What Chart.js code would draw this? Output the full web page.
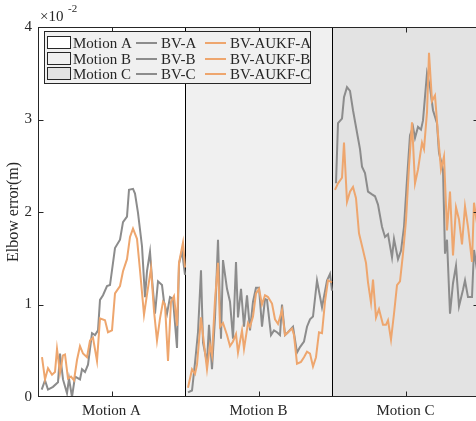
<!DOCTYPE html>
<html>
<head>
<meta charset="utf-8">
<script src="https://cdn.jsdelivr.net/npm/chart.js@4"></script>
<style>
  html, body { margin: 0; padding: 0; background: #fff; overflow: hidden; }
  #wrap { width: 482px; height: 421px; }
</style>
</head>
<body>
<div id="wrap"><canvas id="chart" width="482" height="421"></canvas></div>
<script>
// x = sample index over the three motions (each motion spans 147 samples), y in 1e-2 m
const motions = ["Motion A", "Motion B", "Motion C"];
const sectionLen = 147;
const sectionFill = ["#ffffff", "#f0f0f0", "#e3e3e3"];
const yTicks = [0, 1, 2, 3, 4];

const bvA = [[3.7,0.08],[7,0.18],[10,0.08],[15,0.11],[20,0.16],[22,0.47],[25,0.19],[29,0.04],[31,0.2],[34,0.0],
    [37,0.22],[42,0.19],[44,0.3],[47,0.27],[50,0.35],[54,0.69],[57,0.67],[60,0.72],[62,1.05],[65,1.1],
    [69,1.2],[72,1.21],[77,1.61],[82,1.7],[85,1.89],[89,1.95],[91,2.24],[95,2.25],[97,2.2],[100,1.99],
    [104,1.63],[107,1.08],[109,1.36],[112,1.57],[114,1.28],[117,0.9],[120,1.25],[124,1.21],[126,1.03],[129,0.9],
    [132,1.08],[135,1.06],[139,0.53],[141,1.44],[144,1.58],[147,1.32]];
const bvB = [[150,0.05],[154,0.07],[157,0.37],[160,0.7],[163,1.37],[165,0.59],[169,0.37],[171,0.78],[174,0.3],[177,0.86],
    [180,1.7],[183,0.63],[185,1.48],[189,1.17],[192,1.03],[195,0.63],[198,1.46],[200,0.86],[203,1.17],[206,0.76],
    [209,1.1],[212,0.72],[215,1.03],[218,1.18],[221,1.18],[224,0.76],[227,1.06],[229,1.05],[233,0.67],[236,0.72],
    [239,0.7],[242,0.67],[244,1.0],[247,0.67],[250,0.7],[255,0.76],[259,0.48],[262,0.54],[266,0.6],[269,0.76],
    [272,0.84],[275,0.87],[279,1.26],[284,0.97],[289,1.26],[292,1.33],[294,1.15]];
const bvC = [[298,2.31],[300,2.96],[304,3.01],[306,3.24],[309,3.35],[312,3.31],[315,3.1],[319,2.86],[322,2.68],[324,2.49],
    [327,2.42],[330,2.22],[334,2.19],[337,2.17],[340,2.08],[344,1.84],[347,1.73],[350,1.76],[354,1.51],[356,1.71],
    [360,1.49],[363,1.58],[366,1.84],[369,2.35],[372,2.83],[375,2.92],[377,2.8],[380,2.92],[383,2.89],[385,2.99],
    [389,3.5],[392,3.35],[395,3.1],[399,2.96],[401,2.64],[405,2.46],[407,1.55],[409,1.7],[412,0.9],[415,1.23],
    [418,1.42],[421,0.98],[425,1.16],[427,1.26],[430,1.08],[434,1.08],[436,1.59],[440,1.3]];

const aukfA = [[4,0.43],[7,0.19],[10,0.31],[14,0.24],[17,0.27],[19,0.52],[22,0.26],[25,0.45],[27,0.46],[30,0.2],
    [33,0.22],[36,0.18],[39,0.4],[42,0.55],[45,0.47],[49,0.43],[52,0.61],[55,0.64],[59,0.39],[62,0.85],
    [67,0.83],[70,0.7],[74,0.72],[77,1.12],[82,1.2],[85,1.36],[89,1.49],[92,1.73],[95,1.82],[99,1.71],
    [102,1.37],[106,0.89],[109,1.11],[113,1.39],[116,0.93],[119,0.61],[122,0.85],[125,1.03],[127,1.0],[130,0.39],
    [133,1.03],[136,1.09],[139,0.77],[141,1.45],[145,1.67],[147,1.4]];
const aukfB = [[150,0.1],[154,0.3],[157,0.25],[159,0.35],[163,0.86],[165,0.67],[169,0.3],[172,0.56],[174,0.45],[177,1.05],
    [180,1.45],[182,0.76],[185,0.8],[189,0.67],[192,0.55],[195,0.6],[198,0.68],[200,0.48],[204,0.72],[206,0.52],
    [210,0.8],[212,0.76],[215,0.87],[218,1.12],[221,1.17],[224,1.0],[227,1.1],[230,1.08],[234,1.01],[237,0.84],
    [240,0.79],[244,0.94],[247,0.67],[250,0.7],[254,0.74],[256,0.67],[259,0.36],[263,0.38],[266,0.43],[269,0.49],
    [272,0.47],[275,0.33],[278,0.43],[281,0.7],[284,0.69],[287,1.03],[290,1.26],[294,1.24]];
const aukfC = [[297,2.24],[300,2.31],[304,2.37],[306,2.75],[309,2.11],[312,2.22],[315,2.27],[318,2.15],[321,1.77],[325,1.59],
    [328,1.45],[330,1.24],[333,1.02],[335,1.27],[338,0.86],[341,0.95],[345,0.78],[348,0.78],[350,0.83],[353,0.62],
    [356,0.9],[359,1.21],[362,1.25],[365,1.55],[368,1.91],[371,2.49],[374,2.97],[377,2.31],[380,2.46],[384,2.75],
    [386,2.68],[389,3.08],[391,3.72],[394,3.2],[397,3.26],[400,2.84],[403,2.46],[406,2.6],[409,1.8],[412,2.22],
    [415,1.53],[418,2.05],[421,1.92],[424,1.65],[427,2.06],[430,1.84],[434,1.46],[436,2.1],[440,1.8]];

const GRAY = "rgb(140,140,140)";
const ORANGE = "rgb(238,166,110)";
const TEXT = "#262626";
const FONT = "'Liberation Serif', 'DejaVu Serif', serif";

const toPts = arr => arr.map(p => ({ x: p[0], y: p[1] }));

const series = [
    { label: "BV-A", data: bvA, color: GRAY, order: 2 },
    { label: "BV-B", data: bvB, color: GRAY, order: 2 },
    { label: "BV-C", data: bvC, color: GRAY, order: 2 },
    { label: "BV-AUKF-A", data: aukfA, color: ORANGE, order: 1 },
    { label: "BV-AUKF-B", data: aukfB, color: ORANGE, order: 1 },
    { label: "BV-AUKF-C", data: aukfC, color: ORANGE, order: 1 }
];

// shaded motion sections + boundary lines
const sectionPlugin = {
    id: "sections",
    beforeDatasetsDraw(chart) {
        const { ctx, chartArea: a, scales: { x } } = chart;
        ctx.save();
        motions.forEach((m, i) => {
            const x0 = x.getPixelForValue(i * sectionLen);
            const x1 = x.getPixelForValue((i + 1) * sectionLen);
            ctx.fillStyle = sectionFill[i];
            ctx.fillRect(x0, a.top, x1 - x0, a.bottom - a.top);
        });
        ctx.strokeStyle = "#000";
        ctx.lineWidth = 1;
        for (let i = 1; i < motions.length; i++) {
            const px = Math.round(x.getPixelForValue(i * sectionLen)) + 0.5;
            ctx.beginPath();
            ctx.moveTo(px, a.top);
            ctx.lineTo(px, a.bottom);
            ctx.stroke();
        }
        ctx.restore();
    }
};

// box axes, inward ticks, exponent label and legend
const framePlugin = {
    id: "frame",
    afterDatasetsDraw(chart) {
        const { ctx, chartArea: a, scales: { x, y } } = chart;
        const L = Math.round(a.left) + 0.5, R = Math.round(a.right) - 0.5;
        const T = Math.round(a.top) + 0.5, B = Math.round(a.bottom) - 0.5;
        ctx.save();
        ctx.strokeStyle = "#262626";
        ctx.lineWidth = 1;
        ctx.strokeRect(L, T, R - L, B - T);
        ctx.beginPath();
        motions.forEach((m, i) => {
            const px = Math.round(x.getPixelForValue((i + 0.5) * sectionLen)) + 0.5;
            ctx.moveTo(px, B); ctx.lineTo(px, B - 5);
            ctx.moveTo(px, T); ctx.lineTo(px, T + 5);
        });
        yTicks.slice(1, -1).forEach(v => {
            const py = Math.round(y.getPixelForValue(v)) + 0.5;
            ctx.moveTo(L, py); ctx.lineTo(L + 5, py);
            ctx.moveTo(R, py); ctx.lineTo(R - 5, py);
        });
        ctx.stroke();

        // x10^-2
        ctx.fillStyle = TEXT;
        ctx.textBaseline = "alphabetic";
        ctx.textAlign = "left";
        ctx.font = "15px " + FONT;
        ctx.fillText("\u00d710", 40, 21);
        ctx.font = "11px " + FONT;
        ctx.fillText("-2", 68, 12);

        // legend
        const lx = 44.5, ly = 31.5, lw = 266, lh = 52;
        ctx.fillStyle = "#f0f0f0";
        ctx.fillRect(lx, ly, lw, lh);
        ctx.strokeStyle = "#262626";
        ctx.strokeRect(lx, ly, lw, lh);
        const rows = [43, 59, 74];
        ctx.font = "15px " + FONT;
        ctx.textBaseline = "middle";
        motions.forEach((m, i) => {
            const ry = rows[i];
            ctx.fillStyle = sectionFill[i];
            ctx.fillRect(47.5, ry - 6.5, 23, 12);
            ctx.strokeStyle = "#262626";
            ctx.lineWidth = 1;
            ctx.strokeRect(47.5, ry - 6.5, 23, 12);
            ctx.fillStyle = TEXT;
            ctx.fillText(m, 73, ry + 1);
            [series[i], series[i + 3]].forEach((s, k) => {
                const x0 = k === 0 ? 136 : 205;
                ctx.strokeStyle = s.color;
                ctx.lineWidth = 2;
                ctx.beginPath();
                ctx.moveTo(x0, ry);
                ctx.lineTo(x0 + 21, ry);
                ctx.stroke();
                ctx.fillStyle = TEXT;
                ctx.fillText(s.label, x0 + 25, ry + 1);
            });
        });
        ctx.restore();
    }
};

new Chart(document.getElementById("chart"), {
    type: "line",
    data: {
        datasets: series.map(s => ({
            label: s.label,
            data: toPts(s.data),
            borderColor: s.color,
            borderWidth: 2,
            pointRadius: 0,
            tension: 0,
            order: s.order
        }))
    },
    options: {
        responsive: false,
        animation: false,
        layout: { padding: { top: 27, right: 3, left: 0, bottom: 0 } },
        plugins: { legend: { display: false }, tooltip: { enabled: false } },
        scales: {
            x: {
                type: "linear",
                min: 0,
                max: sectionLen * motions.length,
                grid: { display: false, drawTicks: false },
                border: { display: false },
                afterBuildTicks: scale => {
                    scale.ticks = motions.map((m, i) => ({ value: (i + 0.5) * sectionLen }));
                },
                afterFit: scale => { scale.height = 24; },
                ticks: {
                    autoSkip: false,
                    maxRotation: 0,
                    padding: 5,
                    color: TEXT,
                    font: { family: FONT, size: 15 },
                    callback: (v, i) => motions[i]
                }
            },
            y: {
                min: 0,
                max: 4,
                grid: { display: false, drawTicks: false },
                border: { display: false },
                afterBuildTicks: scale => {
                    scale.ticks = yTicks.map(v => ({ value: v }));
                },
                afterFit: scale => { scale.width = 38; },
                ticks: {
                    padding: 6,
                    color: TEXT,
                    font: { family: FONT, size: 15 }
                },
                title: {
                    display: true,
                    text: "Elbow error(m)",
                    color: TEXT,
                    padding: { top: 4, bottom: 0 },
                    font: { family: FONT, size: 16 }
                }
            }
        }
    },
    plugins: [sectionPlugin, framePlugin]
});
</script>
</body>
</html>
